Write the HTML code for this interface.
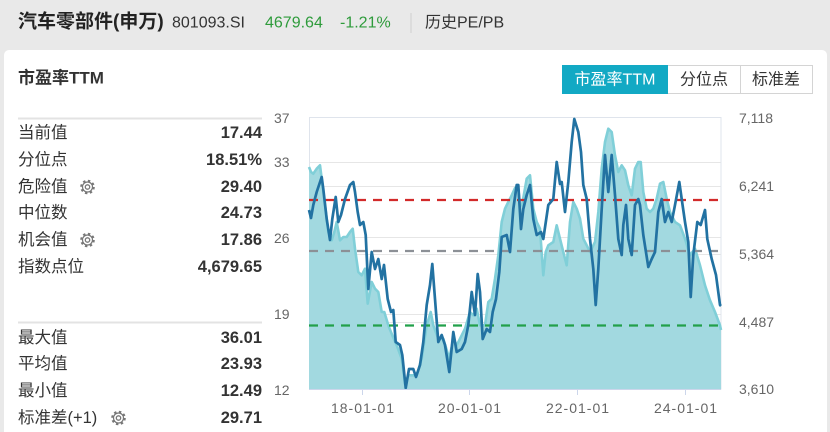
<!DOCTYPE html>
<html><head><meta charset="utf-8"><style>
html,body{margin:0;padding:0;background:#e9e9e9;}
svg{display:block;}
text{font-family:"Liberation Sans","Noto Sans CJK SC",sans-serif;}
</style></head><body>
<svg width="830" height="432" viewBox="0 0 830 432" xmlns="http://www.w3.org/2000/svg">
<rect x="0" y="0" width="830" height="432" fill="#e9e9e9"/>
<!-- header -->
<text x="18" y="22" font-size="19" font-weight="bold" fill="#222" dominant-baseline="central">汽车零部件(申万)</text>
<text x="172" y="23" font-size="16" fill="#333" dominant-baseline="central">801093.SI</text>
<text x="265" y="23" font-size="16" fill="#2e9b3b" dominant-baseline="central">4679.64</text>
<text x="340" y="23" font-size="16" fill="#2e9b3b" dominant-baseline="central">-1.21%</text>
<line x1="411" y1="13" x2="411" y2="33" stroke="#cfcfcf" stroke-width="1"/>
<text x="425" y="23" font-size="16" fill="#333" dominant-baseline="central">历史PE/PB</text>

<!-- card -->
<rect x="4" y="50" width="823" height="392" rx="5" fill="#ffffff"/>
<text x="18" y="78" font-size="17" font-weight="bold" fill="#333" dominant-baseline="central">市盈率TTM</text>

<!-- buttons -->
<rect x="562.5" y="65.5" width="250" height="28" fill="#fff" stroke="#d4d4d4"/>
<rect x="562" y="65" width="106" height="29" fill="#12a9c4"/>
<line x1="740.5" y1="65" x2="740.5" y2="94" stroke="#d4d4d4"/>
<text x="615" y="80" font-size="16" fill="#fff" text-anchor="middle" dominant-baseline="central">市盈率TTM</text>
<text x="704" y="80" font-size="16" fill="#333" text-anchor="middle" dominant-baseline="central">分位点</text>
<text x="776" y="80" font-size="16" fill="#333" text-anchor="middle" dominant-baseline="central">标准差</text>

<!-- left panel -->
<line x1="18" y1="118.5" x2="262" y2="118.5" stroke="#e3e3e3" stroke-width="2"/>
<line x1="18" y1="322.5" x2="262" y2="322.5" stroke="#e3e3e3" stroke-width="2"/>
<g font-size="16.5" fill="#333" dominant-baseline="central">
<text x="18" y="133">当前值</text>
<text x="18" y="160">分位点</text>
<text x="18" y="187">危险值</text>
<text x="18" y="213">中位数</text>
<text x="18" y="240">机会值</text>
<text x="18" y="267">指数点位</text>
<text x="18" y="338">最大值</text>
<text x="18" y="364">平均值</text>
<text x="18" y="391">最小值</text>
<text x="18" y="418">标准差(+1)</text>
</g>
<g font-size="16.5" font-weight="bold" fill="#333" text-anchor="end" dominant-baseline="central">
<text x="262" y="133">17.44</text>
<text x="262" y="160">18.51%</text>
<text x="262" y="187">29.40</text>
<text x="262" y="213">24.73</text>
<text x="262" y="240">17.86</text>
<text x="262" y="267">4,679.65</text>
<text x="262" y="338">36.01</text>
<text x="262" y="364">23.93</text>
<text x="262" y="391">12.49</text>
<text x="262" y="418">29.71</text>
</g>
<!-- gears -->
<g fill="none" stroke="#777">
<circle cx="87.5" cy="187" r="6.2" stroke-width="2.2" stroke-dasharray="2.4 2.5"/>
<circle cx="87.5" cy="187" r="5" stroke-width="1.2"/>
<circle cx="87.5" cy="187" r="2.2" stroke-width="1.3"/>
<circle cx="87.5" cy="240" r="6.2" stroke-width="2.2" stroke-dasharray="2.4 2.5"/>
<circle cx="87.5" cy="240" r="5" stroke-width="1.2"/>
<circle cx="87.5" cy="240" r="2.2" stroke-width="1.3"/>
<circle cx="118.5" cy="418" r="6.2" stroke-width="2.2" stroke-dasharray="2.4 2.5"/>
<circle cx="118.5" cy="418" r="5" stroke-width="1.2"/>
<circle cx="118.5" cy="418" r="2.2" stroke-width="1.3"/>
</g>

<!-- chart gridlines -->
<g stroke="#e6e6e6" stroke-width="1">
<line x1="309" y1="162.5" x2="721" y2="162.5"/>
<line x1="309" y1="186.5" x2="721" y2="186.5"/>
<line x1="309" y1="237.5" x2="721" y2="237.5"/>
<line x1="309" y1="254.5" x2="721" y2="254.5"/>
<line x1="309" y1="314.5" x2="721" y2="314.5"/>
<line x1="309" y1="322.5" x2="721" y2="322.5"/>
</g>
<rect x="309.5" y="117.5" width="411.5" height="271.5" fill="none" stroke="#dfe4ec" stroke-width="1"/>

<!-- PE area -->
<path fill="#a2d9e0" d="M309,389 L309,167 L311,172 L313.3,173.7 L316.7,168.7 L320,165.3 L321.7,178.7 L325,205.3 L328.3,232 L331.7,240.3 L334.3,232 L336.7,222 L340,240.3 L343.3,237 L346.7,237 L350,232 L352.7,228.7 L355,248.7 L358.3,272 L361.7,275.3 L365,268.7 L367.7,303.7 L371.7,282 L375,288.7 L378.3,292 L381.7,312 L384.3,312 L388.3,325.3 L392.3,335.3 L396.7,345.3 L401.7,358.7 L405,384 L408.3,375.3 L413.3,375.3 L416.7,375.3 L421.7,358.7 L426.7,325.3 L430.7,312 L433.3,325.3 L438.3,338.7 L443.3,338.7 L449.3,358.7 L453.3,338.7 L456.7,345.3 L461.7,335.3 L465,328.7 L470,312 L473.3,315.3 L476.7,308.7 L480,325.3 L485,325.3 L488.3,302 L491.7,298.7 L495,278.7 L498.3,255.3 L501.7,222 L505,208.7 L508.3,202 L511.7,195.3 L515,188 L518,186 L520,205 L522,205.3 L526.7,178.7 L530,175.3 L533.3,208.7 L536.7,222 L540,228.7 L543.3,275.3 L545.7,252 L548.3,245.3 L553.3,242 L556.7,225.3 L560,238.7 L563.3,252 L566.7,265.3 L570,222 L573.3,202 L576.7,208.7 L580,218.7 L583.3,238.7 L586.7,245.3 L590,252 L595,242 L598.3,212 L601.7,168.7 L605,142 L608.3,128.7 L611.7,132 L615,155.3 L618.3,172 L621.7,165.3 L625,170.3 L628.3,185.3 L631.7,195.3 L635,168.7 L638.3,162 L640.7,162 L643.3,192 L646.7,208.7 L650,212 L653.3,208.7 L656.7,198.7 L660,183.7 L663.3,182 L666.7,198.7 L670,212 L675,222 L680,225.3 L685,238.7 L690,255.3 L695,248.7 L700,265.3 L705,285.3 L710,300.3 L715,312 L720,325.3 L721,330 L721,389 Z"/>
<polyline fill="none" stroke="#80cfd8" stroke-width="2.6" stroke-linejoin="round" points="309,167 311,172 313.3,173.7 316.7,168.7 320,165.3 321.7,178.7 325,205.3 328.3,232 331.7,240.3 334.3,232 336.7,222 340,240.3 343.3,237 346.7,237 350,232 352.7,228.7 355,248.7 358.3,272 361.7,275.3 365,268.7 367.7,303.7 371.7,282 375,288.7 378.3,292 381.7,312 384.3,312 388.3,325.3 392.3,335.3 396.7,345.3 401.7,358.7 405,384 408.3,375.3 413.3,375.3 416.7,375.3 421.7,358.7 426.7,325.3 430.7,312 433.3,325.3 438.3,338.7 443.3,338.7 449.3,358.7 453.3,338.7 456.7,345.3 461.7,335.3 465,328.7 470,312 473.3,315.3 476.7,308.7 480,325.3 485,325.3 488.3,302 491.7,298.7 495,278.7 498.3,255.3 501.7,222 505,208.7 508.3,202 511.7,195.3 515,188 518,186 520,205 522,205.3 526.7,178.7 530,175.3 533.3,208.7 536.7,222 540,228.7 543.3,275.3 545.7,252 548.3,245.3 553.3,242 556.7,225.3 560,238.7 563.3,252 566.7,265.3 570,222 573.3,202 576.7,208.7 580,218.7 583.3,238.7 586.7,245.3 590,252 595,242 598.3,212 601.7,168.7 605,142 608.3,128.7 611.7,132 615,155.3 618.3,172 621.7,165.3 625,170.3 628.3,185.3 631.7,195.3 635,168.7 638.3,162 640.7,162 643.3,192 646.7,208.7 650,212 653.3,208.7 656.7,198.7 660,183.7 663.3,182 666.7,198.7 670,212 675,222 680,225.3 685,238.7 690,255.3 695,248.7 700,265.3 705,285.3 710,300.3 715,312 720,325.3 721,330"/>

<!-- dashed reference lines -->
<line x1="309" y1="200" x2="721" y2="200" stroke="#d22a2a" stroke-width="2.2" stroke-dasharray="9 7"/>
<line x1="309" y1="251" x2="721" y2="251" stroke="#8c9096" stroke-width="2.2" stroke-dasharray="9 7"/>
<line x1="309" y1="325.5" x2="721" y2="325.5" stroke="#22a04a" stroke-width="2.2" stroke-dasharray="9 7"/>

<!-- index line -->
<polyline fill="none" stroke="#2272a2" stroke-width="2.7" stroke-linejoin="round" points="309,210 311,218 313.3,205 316.7,192 321.7,177 323.3,189 326.7,219 330,240 332.3,219 335.7,197 338.3,222 341,215 345,199 350,185 353.3,182 355,192 357.7,212 360,225 363.3,222 365.7,235 368.3,289 371.7,252 375,269 378.3,259 381.7,279 384,265 387.7,299 391,312 393.3,310 395.7,342 400,345 402.3,355 405.7,388 409,369 413.3,369 416,377 420,365 423.3,342 426.7,305 430,285 432.3,264 435,299 438.3,342 441.7,335 445,345 449.3,372 453.3,332 456.7,352 461.7,349 465,342 468.3,325 471.7,292 475,315 477.7,274 480,292 482.7,339 486.7,329 490,332 492.7,312 496,299 499.3,272 501.7,237 506.7,235 510,252 513.3,209 516.7,185 518.3,185 521,229 523.3,209 526.7,195 530,185 533.3,219 536.7,235 541,232 543.3,239 548.3,205 553.3,199 556.7,162 560,184 561.7,182 565,212 568.3,182 571.7,142 574.3,119 578.3,132 581,152 583.3,185 586.7,199 590,239 593.3,269 595.7,305 598.3,269 601.7,209 605,155 608.3,192 611.7,155 615,195 618.3,239 621.7,255 623.3,225 626,205 628.3,239 631.7,255 635,205 638.3,199 640,205 643.3,235 648.3,267 651.7,259 655,252 658.3,212 661.7,199 665,222 668.3,212 671.7,222 675,205 679.3,182 681.7,199 685,222 688.3,242 690.7,297 693.3,255 697.3,222 700.7,225 705,210 707.3,239 711.7,259 716,275 720,305 721,306"/>

<!-- axes -->
<line x1="309" y1="389.5" x2="721" y2="389.5" stroke="#ccd6eb" stroke-width="1"/>
<g stroke="#ccd6eb" stroke-width="1">
<line x1="362.5" y1="389" x2="362.5" y2="395"/>
<line x1="469.5" y1="389" x2="469.5" y2="395"/>
<line x1="577.5" y1="389" x2="577.5" y2="395"/>
<line x1="685.5" y1="389" x2="685.5" y2="395"/>
</g>
<g font-size="14" fill="#666" dominant-baseline="central">
<text x="274" y="118">37</text>
<text x="274" y="162">33</text>
<text x="274" y="238">26</text>
<text x="274" y="314">19</text>
<text x="274" y="390">12</text>
<text x="739" y="118">7,118</text>
<text x="739" y="186">6,241</text>
<text x="739" y="254">5,364</text>
<text x="739" y="322">4,487</text>
<text x="739" y="389">3,610</text>
</g>
<g font-size="14" fill="#666" text-anchor="middle" dominant-baseline="central" letter-spacing="1">
<text x="363" y="408">18-01-01</text>
<text x="470" y="408">20-01-01</text>
<text x="578" y="408">22-01-01</text>
<text x="686" y="408">24-01-01</text>
</g>
</svg>
</body></html>
